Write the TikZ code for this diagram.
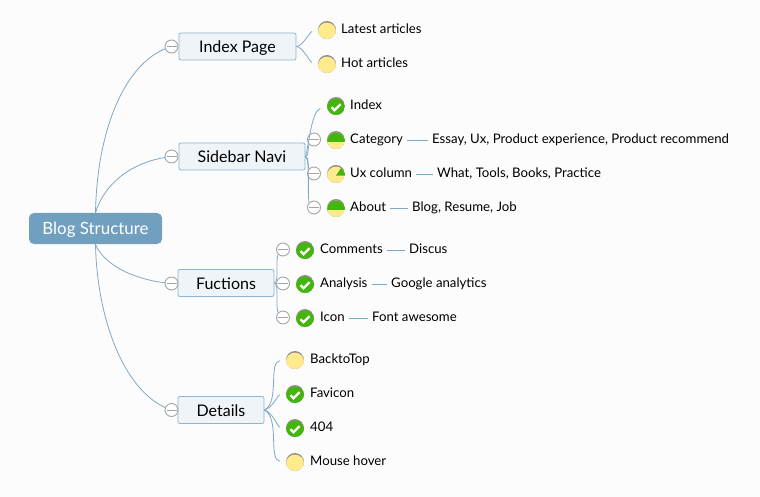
\documentclass[tikz,border=0pt]{standalone}
\usepackage{fontspec}
\setmainfont{Lato}
\definecolor{linkblue}{HTML}{7FA8C6}
\definecolor{rootblue}{HTML}{719FC0}
\definecolor{paleblue}{HTML}{EFF4F8}
\definecolor{boxblue}{HTML}{8DB5D1}
\definecolor{ringgray}{HTML}{8E8E8E}
\definecolor{mapyellow}{HTML}{FFEB8C}
\definecolor{mapgreen}{HTML}{44B50A}
\newcommand{\iconbase}{%
  \fill[ringgray] (path picture bounding box.center) circle (9);
  \clip (path picture bounding box.center) ++(0,1.6) circle (9);}
\tikzset{
  root/.style={rounded corners=5pt, fill=rootblue, text=white, minimum width=133pt, minimum height=31pt, inner sep=0, text height=15pt, text depth=3.5pt, font=\fontsize{16.9}{20}\selectfont},
  topic/.style={rounded corners=2pt, draw=boxblue, fill=paleblue, line width=.8pt, minimum height=27pt, inner sep=0, text height=15pt, text depth=3pt, font=\fontsize{16}{18}\selectfont},
  leaf/.style={anchor=west, inner sep=0, text height=10pt, text depth=3pt, font=\fontsize{13.2}{15}\selectfont},
  branch/.style={draw=linkblue, line width=.8pt},
  note/.style={branch, shorten <=4pt, shorten >=4pt},
  fold/.style={circle, draw=ringgray!80, fill=white, line width=.9pt, minimum size=13pt, inner sep=0,
    path picture={\draw[ringgray!80, line width=.9pt] ([xshift=-5pt]path picture bounding box.center) -- ([xshift=5pt]path picture bounding box.center);}},
  icon/.style={circle, minimum size=18pt, inner sep=0},
  todo/.style={icon, path picture={\iconbase \fill[mapyellow] (path picture bounding box.south west) rectangle (path picture bounding box.north east);}},
  half/.style={icon, path picture={\iconbase \fill[mapyellow] (path picture bounding box.south west) rectangle (path picture bounding box.north east);
    \fill[mapgreen] (path picture bounding box.center) ++(-10,1.6) rectangle +(20,-12);}},
  part/.style={icon, path picture={\iconbase \fill[mapyellow] (path picture bounding box.south west) rectangle (path picture bounding box.north east);
    \fill[mapgreen] (path picture bounding box.center) ++(0,1.6) -- ++(10,0) -- ++(0,-4) -- ++(-4,-5) -- cycle;}},
  done/.style={icon, path picture={\iconbase \fill[mapgreen] (path picture bounding box.south west) rectangle (path picture bounding box.north east);
    \draw[white, line width=2.4pt] (path picture bounding box.center) ++(-4.5,1.2) -- ++(3,3) -- ++(6,-6);}},
}
\begin{document}
\begin{tikzpicture}[x=1pt, y=-1pt]
\useasboundingbox (0,0) rectangle (760,497);
\fill[white!99!black] (0,0) rectangle (760,497);
% main boxes
\node[root] (blog) at (95.5,228.5) {Blog Structure};
\node[topic, minimum width=117pt] (page) at (237.5,46.5) {Index Page};
\node[topic, minimum width=126pt] (navi) at (242,156.5) {Sidebar Navi};
\node[topic, minimum width=96pt] (func) at (226,283) {Fuctions};
\node[topic, minimum width=86pt] (detail) at (221,410) {Details};
% connectors
\draw[branch] (blog.north) .. controls (97,130) and (125,60) .. (171.5,46.5) coordinate (pageEnd);
\draw[branch] (blog.north) .. controls (102,190) and (125,162) .. (171.5,156.5) coordinate (naviEnd);
\draw[branch] (blog.south) .. controls (102,262) and (130,280) .. (171.5,283.5) coordinate (funcEnd);
\draw[branch] (blog.south) .. controls (97,320) and (125,395) .. (171.5,410) coordinate (detailEnd);
% fold marks
\node[fold] (pageFold) at (pageEnd) {};
\node[fold] (naviFold) at (naviEnd) {};
\node[fold] (funcFold) at (funcEnd) {};
\node[fold] (detailFold) at (detailEnd) {};
\node[fold] (catFold) at (314,139.5) {};
\node[fold] (uxFold) at (314,173.5) {};
\node[fold] (aboutFold) at (314,207.5) {};
\node[fold] (commFold) at (283,249.5) {};
\node[fold] (statFold) at (283,283.5) {};
\node[fold] (iconFold) at (283,317.5) {};
% icons
\node[todo] (latestIcon) at (327,30) {};
\node[todo] (hotIcon) at (327,64) {};
\node[done] (indexIcon) at (336,106) {};
\node[half] (catIcon) at (336,140) {};
\node[part] (uxIcon) at (336,174) {};
\node[half] (aboutIcon) at (336,208) {};
\node[done] (commIcon) at (305,250) {};
\node[done] (statIcon) at (305,284) {};
\node[done] (iconIcon) at (305,318) {};
\node[todo] (backIcon) at (295,360) {};
\node[done] (faviIcon) at (295,394) {};
\node[done] (lostIcon) at (295,428) {};
\node[todo] (hoverIcon) at (295,462) {};
% labels
\node[leaf] (latest) at (341,30) {Latest articles};
\node[leaf] (hot) at (341,64) {Hot articles};
\node[leaf] (index) at (350,106) {Index};
\node[leaf] (cat) at (350,140) {Category};
\node[leaf] (catNote) at (432,140) {Essay, Ux, Product experience, Product recommend};
\node[leaf] (ux) at (350,174) {Ux column};
\node[leaf] (uxNote) at (437,174) {What, Tools, Books, Practice};
\node[leaf] (about) at (350,208) {About};
\node[leaf] (aboutNote) at (412,208) {Blog, Resume, Job};
\node[leaf] (comm) at (320,250) {Comments};
\node[leaf] (commNote) at (409,250) {Discus};
\node[leaf] (stat) at (320,284) {Analysis};
\node[leaf] (statNote) at (391,284) {Google analytics};
\node[leaf] (awe) at (320,318) {Icon};
\node[leaf] (aweNote) at (372,318) {Font awesome};
\node[leaf] (back) at (310,360) {BacktoTop};
\node[leaf] (favi) at (310,394) {Favicon};
\node[leaf] (lost) at (310,428) {404};
\node[leaf] (hover) at (310,462) {Mouse hover};
% sub branches
\draw[branch, shorten >=6pt] (page.east) .. controls +(6,0) and +(-8,2) .. (latestIcon.west);
\draw[branch, shorten >=6pt] (page.east) .. controls +(6,0) and +(-8,-2) .. (hotIcon.west);
\draw[branch, shorten >=7pt] (navi.east) .. controls (309,146) and (311,112) .. (indexIcon.west);
\draw[branch] (navi.east) .. controls +(4,-1) and +(-2,5) .. (catFold.south west);
\draw[branch] (navi.east) .. controls +(4,1) and +(-2,-4) .. (uxFold.north west);
\draw[branch] (navi.east) .. controls +(5,3) and +(-2,-10) .. (aboutFold.north west);
\draw[branch] (func.east) .. controls +(5,-2) and +(-3,8) .. (commFold.south west);
\draw[branch] (func.east) -- (statFold.west);
\draw[branch] (func.east) .. controls +(5,2) and +(-3,-8) .. (iconFold.north west);
\draw[branch, shorten >=6pt] (detail.east) .. controls (280,402) and (268,362) .. (backIcon.west);
\draw[branch, shorten >=6pt] (detail.east) .. controls +(8,-2) and +(-8,1) .. (faviIcon.west);
\draw[branch, shorten >=6pt] (detail.east) .. controls +(8,2) and +(-8,-1) .. (lostIcon.west);
\draw[branch, shorten >=6pt] (detail.east) .. controls (280,418) and (268,460) .. (hoverIcon.west);
\draw[note] (cat) -- (catNote);
\draw[note] (ux) -- (uxNote);
\draw[note] (about) -- (aboutNote);
\draw[note] (comm) -- (commNote);
\draw[note] (stat) -- (statNote);
\draw[note] (awe) -- (aweNote);
\end{tikzpicture}
\end{document}
